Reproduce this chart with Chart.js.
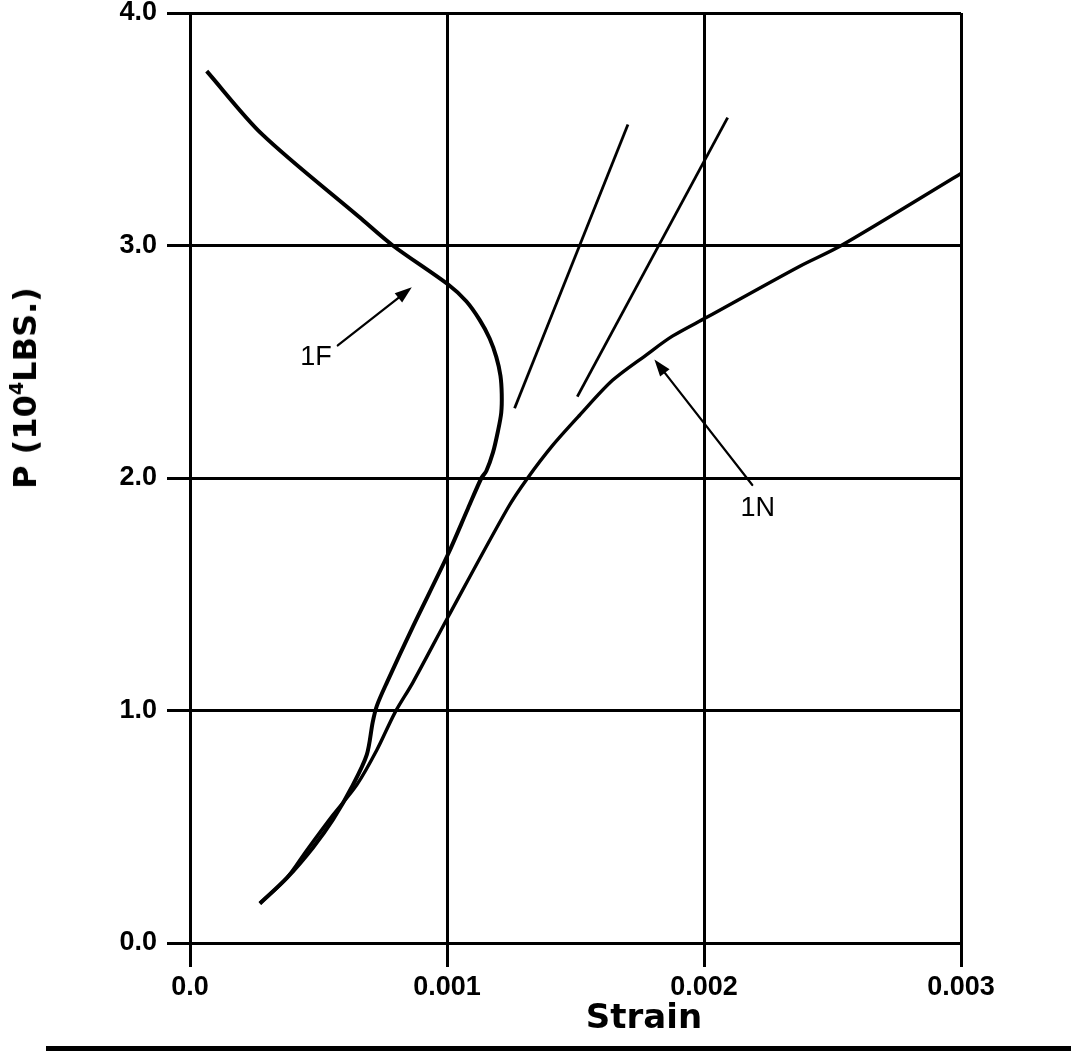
<!DOCTYPE html>
<html><head><meta charset="utf-8">
<script src="https://cdn.jsdelivr.net/npm/chart.js@4.4.1/dist/chart.umd.min.js"></script>
<style>
html,body{margin:0;padding:0;background:#fff;}
#wrap{position:relative;width:1071px;height:1051px;overflow:hidden;background:#fff;}
canvas{position:absolute;left:0;top:0;}
.ytitle{position:absolute;left:25px;top:388px;transform:translate(-50%,-50%) rotate(-90deg);font-family:"DejaVu Sans";font-weight:bold;font-size:32px;white-space:nowrap;color:#000;}
.ytitle sup{font-size:0.6em;vertical-align:0.7em;line-height:0;}
.xtitle{position:absolute;left:644px;top:1016px;transform:translate(-50%,-50%);font-family:"DejaVu Sans";font-weight:bold;font-size:34px;color:#000;white-space:nowrap;}
.rule{position:absolute;left:46px;top:1046px;width:1025px;height:5px;background:#000;}
</style></head><body>
<div id="wrap"><canvas id="c" width="1071" height="1051"></canvas>
<div class="ytitle">P (10<sup>4</sup>LBS.)</div>
<div class="xtitle">Strain</div>
<div class="rule"></div></div>
<script>
// ---- tick values / labels ----
const xTickValues = [0, 0.001, 0.002, 0.003];
const xTickLabels = ['0.0', '0.001', '0.002', '0.003'];
const yTickValues = [0, 1, 2, 3, 4];
const yTickLabels = ['0.0', '1.0', '2.0', '3.0', '4.0'];

// ---- series 1F (strain, load in 10^4 lbs) ----
const strain1F = [0.000065, 0.000279, 0.000661, 0.000789, 0.001007, 0.001075, 0.001127, 0.001166, 0.001192, 0.001208, 0.001213, 0.001211, 0.001198, 0.001179, 0.001153, 0.001134, 0.001082, 0.001003, 0.000867, 0.000766, 0.000727, 0.000711, 0.000688, 0.000634, 0.000556, 0.000478, 0.000377, 0.000272];
const load1F   = [3.75, 3.48, 3.12, 3.00, 2.83, 2.76, 2.68, 2.60, 2.52, 2.44, 2.36, 2.28, 2.20, 2.11, 2.03, 2.00, 1.87, 1.67, 1.36, 1.12, 1.02, 0.95, 0.81, 0.68, 0.53, 0.41, 0.28, 0.17];

// ---- series 1N ----
const strain1N = [0.000272, 0.000377, 0.000455, 0.000556, 0.000649, 0.000727, 0.000797, 0.000867, 0.001003, 0.001236, 0.001314, 0.001411, 0.001516, 0.001644, 0.001776, 0.001877, 0.002009, 0.002371, 0.002534, 0.003];
const load1N   = [0.17, 0.28, 0.40, 0.55, 0.68, 0.83, 0.99, 1.12, 1.40, 1.87, 2.00, 2.14, 2.27, 2.42, 2.53, 2.61, 2.69, 2.91, 3.00, 3.31];

// ---- straight reference lines ----
const strainLineA = [0.001263, 0.001704];
const loadLineA   = [2.30, 3.52];
const strainLineB = [0.001507, 0.002092];
const loadLineB   = [2.35, 3.55];

// ---- annotations ----
const annotText     = ['1F', '1N'];
const annotStrain   = [0.00049, 0.002209];
const annotLoad     = [2.52, 1.87];
const arrowTailStrain = [0.000575, 0.002188];
const arrowTailLoad   = [2.57, 1.97];
const arrowHeadStrain = [0.000863, 0.001807];
const arrowHeadLoad   = [2.82, 2.51];

const pts = (xs, ys) => xs.map((v, i) => ({x: v, y: ys[i]}));

const annotPlugin = {
  id: 'annot',
  afterDatasetsDraw(chart) {
    const {ctx} = chart;
    const sx = chart.scales.x, sy = chart.scales.y;
    ctx.save();
    ctx.strokeStyle = '#000';
    ctx.fillStyle = '#000';
    ctx.lineWidth = 2.2;
    ctx.lineCap = 'round';
    for (let i = 0; i < arrowTailStrain.length; i++) {
      const x0 = sx.getPixelForValue(arrowTailStrain[i]), y0 = sy.getPixelForValue(arrowTailLoad[i]);
      const x1 = sx.getPixelForValue(arrowHeadStrain[i]), y1 = sy.getPixelForValue(arrowHeadLoad[i]);
      const a = Math.atan2(y1 - y0, x1 - x0);
      const L = 17, W = 6;
      const bx = x1 - L * Math.cos(a), by = y1 - L * Math.sin(a);
      ctx.beginPath(); ctx.moveTo(x0, y0); ctx.lineTo(bx, by); ctx.stroke();
      ctx.beginPath();
      ctx.moveTo(x1, y1);
      ctx.lineTo(bx - W * Math.sin(a), by + W * Math.cos(a));
      ctx.lineTo(bx + W * Math.sin(a), by - W * Math.cos(a));
      ctx.closePath(); ctx.fill();
    }
    ctx.font = '27px "Liberation Sans", Arial, sans-serif';
    ctx.textAlign = 'center';
    ctx.textBaseline = 'middle';
    for (let i = 0; i < annotText.length; i++) {
      ctx.fillText(annotText[i], sx.getPixelForValue(annotStrain[i]), sy.getPixelForValue(annotLoad[i]));
    }
    ctx.restore();
  }
};

const tickFont = {family: '"Liberation Sans", Arial, sans-serif', weight: 'bold', size: 27, lineHeight: 1};

new Chart(document.getElementById('c'), {
  type: 'scatter',
  data: {
    datasets: [
      {label: '1F', data: pts(strain1F, load1F), showLine: true, borderColor: '#000', borderWidth: 4, pointRadius: 0, tension: 0.3, fill: false},
      {label: '1N', data: pts(strain1N, load1N), showLine: true, borderColor: '#000', borderWidth: 3.4, pointRadius: 0, tension: 0.3, fill: false},
      {label: 'A', data: pts(strainLineA, loadLineA), showLine: true, borderColor: '#000', borderWidth: 2.8, pointRadius: 0, tension: 0, fill: false},
      {label: 'B', data: pts(strainLineB, loadLineB), showLine: true, borderColor: '#000', borderWidth: 2.8, pointRadius: 0, tension: 0, fill: false}
    ]
  },
  options: {
    responsive: false,
    devicePixelRatio: 1,
    animation: false,
    layout: {padding: {left: 0, right: 110, top: 13, bottom: 0}},
    plugins: {legend: {display: false}, tooltip: {enabled: false}},
    scales: {
      x: {
        type: 'linear', min: 0, max: 0.003,
        afterBuildTicks: s => { s.ticks = xTickValues.map(v => ({value: v})); },
        afterFit: s => { s.height = 108; s.paddingLeft = 0; s.paddingRight = 0; },
        ticks: {color: '#000', font: tickFont, padding: 7, maxRotation: 0, callback: (v, i) => xTickLabels[i]},
        grid: {color: '#000', lineWidth: 3, tickLength: 24, tickColor: '#000', tickWidth: 3},
        border: {color: '#000', width: 3}
      },
      y: {
        type: 'linear', min: 0, max: 4,
        afterBuildTicks: s => { s.ticks = yTickValues.map(v => ({value: v})); },
        afterFit: s => { s.width = 190; s.paddingTop = 0; s.paddingBottom = 0; },
        ticks: {color: '#000', font: tickFont, padding: 10, callback: (v, i) => yTickLabels[i]},
        grid: {color: '#000', lineWidth: 3, tickLength: 23, tickColor: '#000', tickWidth: 3},
        border: {color: '#000', width: 3}
      }
    }
  },
  plugins: [annotPlugin]
});
</script>
</body></html>
